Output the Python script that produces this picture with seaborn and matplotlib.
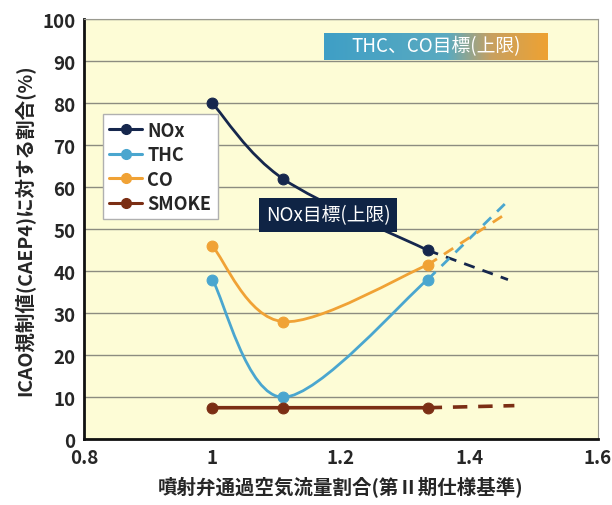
import numpy as np
import pandas as pd
import matplotlib
matplotlib.use("Agg")
import matplotlib.pyplot as plt
import seaborn as sns
from matplotlib.path import Path
from matplotlib.patches import PathPatch
from matplotlib.lines import Line2D
from matplotlib.colors import LinearSegmentedColormap

# ── Data ──────────────────────────────────────────────────────────────────────
flow_ratio = [1.0, 1.11, 1.335]
nox   = [80, 62, 45]
thc   = [38, 10, 38]
co    = [46, 28, 41.5]
smoke = [7.5, 7.5, 7.5]

# dashed extrapolation end points (x, y)
ext_x = {"NOx": 1.46, "THC": 1.455, "CO": 1.46, "SMOKE": 1.47}
ext_y = {"NOx": 38, "THC": 56, "CO": 54, "SMOKE": 8}

series = {"NOx": nox, "THC": thc, "CO": co, "SMOKE": smoke}
colors = {"NOx": "#16274d", "THC": "#4aa6cf", "CO": "#f0a235", "SMOKE": "#7b2e14"}

x_ticks = [0.8, 1, 1.2, 1.4, 1.6]
y_ticks = list(range(0, 101, 10))

# ── Style ─────────────────────────────────────────────────────────────────────
sns.set_theme(style="white")
plt.rcParams["font.family"] = ["Noto Sans CJK JP", "DejaVu Sans"]
plt.rcParams["font.weight"] = "bold"


def smooth_path(xs, ys):
    """Catmull-Rom style Bezier path through the points (Excel smoothed line)."""
    pts = np.column_stack([xs, ys]).astype(float)
    n = len(pts)
    verts = [pts[0]]
    codes = [Path.MOVETO]
    for i in range(n - 1):
        p0 = pts[i - 1] if i > 0 else pts[i]
        p1, p2 = pts[i], pts[i + 1]
        p3 = pts[i + 2] if i + 2 < n else pts[i + 1]
        c1 = p1 + (p2 - p0) / 6
        c2 = p2 - (p3 - p1) / 6
        verts += [c1, c2, p2]
        codes += [Path.CURVE4] * 3
    return Path(verts, codes)


fig = plt.figure(figsize=(6.12, 5.06), dpi=100)
ax = fig.add_axes([0.137, 0.130, 0.840, 0.830])
ax.set_facecolor("#fdfcd6")

for name, vals in series.items():
    c = colors[name]
    lw = 2.6 if name == "SMOKE" else 2.0
    ax.add_patch(PathPatch(smooth_path(flow_ratio, vals), fill=False,
                           edgecolor=c, lw=lw, zorder=3))
    ext = pd.DataFrame({"x": [flow_ratio[-1], ext_x[name]],
                        "y": [vals[-1], ext_y[name]]})
    sns.lineplot(data=ext, x="x", y="y", ax=ax, color=c, lw=lw,
                 linestyle=(0, (4, 3)), zorder=3)
    pts = pd.DataFrame({"x": flow_ratio, "y": vals})
    sns.scatterplot(data=pts, x="x", y="y", ax=ax, color=c, s=60,
                    edgecolor=c, linewidth=0.8, zorder=4)

ax.set_xlim(0.8, 1.6)
ax.set_ylim(0, 100)
ax.set_xticks(x_ticks)
ax.set_xticklabels(["0.8", "1", "1.2", "1.4", "1.6"])
ax.set_yticks(y_ticks)
ax.tick_params(axis="both", labelsize=13.5, length=0, pad=6)
for lab in ax.get_xticklabels() + ax.get_yticklabels():
    lab.set_fontweight("bold")
ax.yaxis.grid(True, color="#8c8c80", lw=1.0)
ax.xaxis.grid(False)
ax.set_axisbelow(True)

for side in ["top", "right"]:
    ax.spines[side].set_color("#9a9a90")
    ax.spines[side].set_linewidth(0.8)
for side in ["left", "bottom"]:
    ax.spines[side].set_color("#111111")
    ax.spines[side].set_linewidth(2.0)

ax.set_xlabel("噴射弁通過空気流量割合(第Ⅱ期仕様基準)", fontsize=14,
              fontweight="bold", labelpad=7)
ax.set_ylabel("ICAO規制値(CAEP4)に対する割合(%)", fontsize=14,
              fontweight="bold", labelpad=5)

# ── Target labels ─────────────────────────────────────────────────────────────
ax.text(1.18, 53.4, "NOx目標(上限)", fontsize=13.5, color="white",
        fontweight="normal", ha="center", va="center", zorder=6,
        bbox=dict(boxstyle="square,pad=0.35", fc="#0f2445", ec="none"))

grad = LinearSegmentedColormap.from_list(
    "thcco", [(0, "#3f9fc6"), (0.55, "#5aaac0"), (0.75, "#c8a060"), (1, "#eea232")])
ax.imshow(np.linspace(0, 1, 200).reshape(1, -1), cmap=grad, aspect="auto",
          extent=(1.174, 1.522, 90.4, 96.7), zorder=5)
ax.text(1.348, 93.6, "THC、CO目標(上限)", fontsize=13.5, color="white",
        fontweight="normal", ha="center", va="center", zorder=6)

# ── Legend ────────────────────────────────────────────────────────────────────
handles = [Line2D([0], [0], color=colors[n], lw=2.2, marker="o", markersize=7)
           for n in series]
leg = ax.legend(handles, list(series), loc="upper left",
                bbox_to_anchor=(0.02, 0.795), fontsize=13, frameon=True,
                fancybox=False, edgecolor="#b0b0b0", framealpha=1,
                handlelength=1.8, handletextpad=0.3, borderpad=0.35,
                labelspacing=0.3)
for t in leg.get_texts():
    t.set_fontweight("bold")

fig.savefig("out.png", dpi=100, facecolor="white")
